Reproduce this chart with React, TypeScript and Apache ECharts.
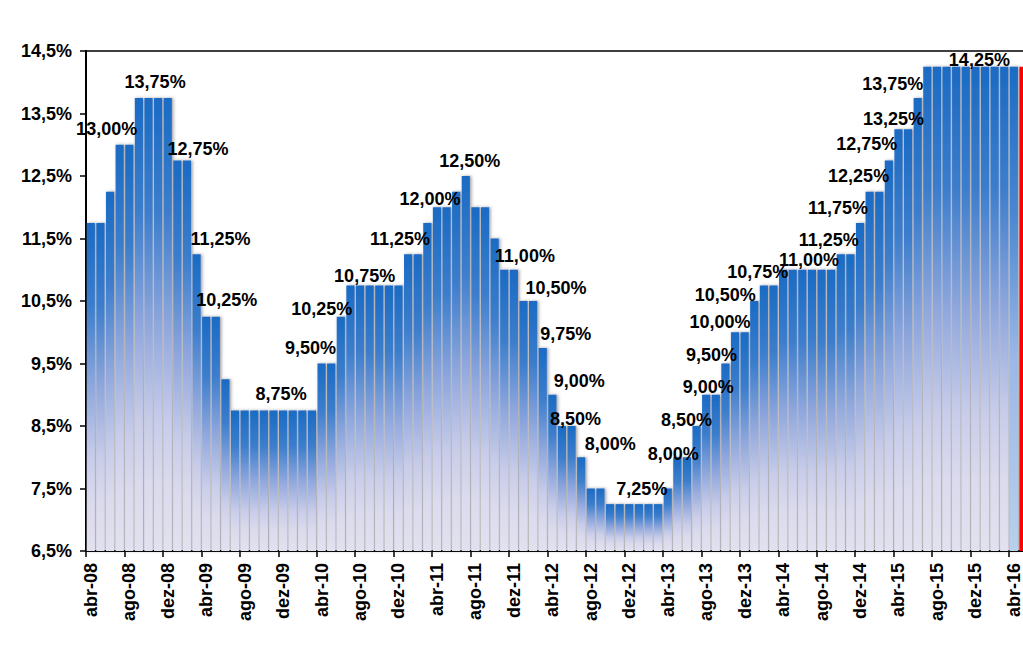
import React, { useEffect, useRef } from 'react';
import * as echarts from 'echarts';

// Monthly categories: abr-08 .. mai-16
const MONTH_NAMES = ['jan', 'fev', 'mar', 'abr', 'mai', 'jun', 'jul', 'ago', 'set', 'out', 'nov', 'dez'];
const START_YEAR = 2008;
const START_MONTH = 3; // abr
const MONTH_COUNT = 98;
const CATEGORIES: string[] = Array.from({ length: MONTH_COUNT }, (_, i) => {
  const m = (START_MONTH + i) % 12;
  const y = START_YEAR + Math.floor((START_MONTH + i) / 12);
  return `${MONTH_NAMES[m]}-${String(y % 100).padStart(2, '0')}`;
});

// Selic target rate (% a.a.), one value per month
const SELIC_2008 = [11.75, 11.75, 12.25, 13.0, 13.0, 13.75, 13.75, 13.75, 13.75];
const SELIC_2009 = [12.75, 12.75, 11.25, 10.25, 10.25, 9.25, 8.75, 8.75, 8.75, 8.75, 8.75, 8.75];
const SELIC_2010 = [8.75, 8.75, 8.75, 9.5, 9.5, 10.25, 10.75, 10.75, 10.75, 10.75, 10.75, 10.75];
const SELIC_2011 = [11.25, 11.25, 11.75, 12.0, 12.0, 12.25, 12.5, 12.0, 12.0, 11.5, 11.0, 11.0];
const SELIC_2012 = [10.5, 10.5, 9.75, 9.0, 8.5, 8.5, 8.0, 7.5, 7.5, 7.25, 7.25, 7.25];
const SELIC_2013 = [7.25, 7.25, 7.25, 7.5, 8.0, 8.0, 8.5, 9.0, 9.0, 9.5, 10.0, 10.0];
const SELIC_2014 = [10.5, 10.75, 10.75, 11.0, 11.0, 11.0, 11.0, 11.0, 11.0, 11.25, 11.25, 11.75];
const SELIC_2015 = [12.25, 12.25, 12.75, 13.25, 13.25, 13.75, 14.25, 14.25, 14.25, 14.25, 14.25, 14.25];
const SELIC_2016 = [14.25, 14.25, 14.25, 14.25, 14.25];
const SELIC = [
  ...SELIC_2008, ...SELIC_2009, ...SELIC_2010, ...SELIC_2011, ...SELIC_2012,
  ...SELIC_2013, ...SELIC_2014, ...SELIC_2015, ...SELIC_2016,
];

// Y axis ticks
const Y_MIN = 6.5;
const Y_MAX = 14.5;
const Y_STEP = 1;

// Which bars carry a value label
const LABELLED = [3, 7, 10, 11, 13, 20, 24, 26, 29, 33, 36, 39, 44, 46, 47, 48, 50, 51, 57, 61, 63, 64, 66, 67, 69, 70, 75, 78, 80, 81, 83, 84, 86, 92];
// Label nudges (style)
const LABEL_NUDGE: number[][] = [
  [-13, -2], [-3, -2], [11, 3], [24, -1], [11, -3], [-2, -2], [-11, -2], [-19, 6], [-5, 5], [-8, -1],
  [-7, 6], [4, -1], [11, 0], [23, 1], [23, 0], [27, 0], [4, 7], [29, 1], [3, -1], [-4, 11],
  [-10, 8], [2, 6], [-14, 5], [-15, 4], [-29, 8], [-6, 1], [-3, 4], [-12, 0], [-22, -1], [-11, -2],
  [-22, -2], [-5, 4], [-25, 0], [4, 7],
];
const LAST_BLUE_INDEX = 96;
const RED_INDEX = 97;

const FONT = 'Arial, "Liberation Sans", sans-serif';
const CHART_W = 1050;
const CHART_H = 654;

export default function App() {
  const ref = useRef<HTMLDivElement>(null);

  useEffect(() => {
    if (!ref.current) return;
    const chart = echarts.init(ref.current, null, { renderer: 'svg' });

    const mainGradient = () =>
      new echarts.graphic.LinearGradient(0, 0, 0, 1, [
        { offset: 0, color: '#1a6bc4' },
        { offset: 0.25, color: '#3b7dcc' },
        { offset: 0.5, color: '#8fa7dd' },
        { offset: 0.72, color: '#c9cdea' },
        { offset: 0.86, color: '#dcdbee' },
        { offset: 1, color: '#e2e1ef' },
      ]);
    const lastGradient = () =>
      new echarts.graphic.LinearGradient(0, 0, 0, 1, [
        { offset: 0, color: '#1a6bc4' },
        { offset: 0.3, color: '#4a86d0' },
        { offset: 0.6, color: '#9ab8e6' },
        { offset: 1, color: '#b8d0ec' },
      ]);

    const nudges = new Map<number, number[]>();
    LABELLED.forEach((idx, k) => nudges.set(idx, LABEL_NUDGE[k]));

    const data = SELIC.map((v, i) => {
      const item: any = { value: v };
      if (i === RED_INDEX) {
        item.itemStyle = { color: '#ff0000', shadowBlur: 0, shadowOffsetX: 0, shadowColor: 'transparent' };
      } else if (i === LAST_BLUE_INDEX) {
        item.itemStyle = { color: lastGradient() };
      }
      if (nudges.has(i)) {
        item.label = { show: true, offset: nudges.get(i) };
      }
      return item;
    });

    // plot spans x = 86 .. 86 + 98 * 9.615
    const plotRight = 86 + MONTH_COUNT * 9.615;

    chart.setOption({
      animation: false,
      backgroundColor: '#ffffff',
      grid: {
        left: 86,
        top: 51,
        bottom: 103,
        right: CHART_W - plotRight,
        containLabel: false,
        show: true,
        borderColor: '#000',
        borderWidth: 1.5,
        backgroundColor: 'transparent',
      },
      xAxis: {
        type: 'category',
        data: CATEGORIES,
        boundaryGap: true,
        axisLine: { show: true, lineStyle: { color: '#000', width: 2 } },
        axisTick: { show: true, interval: 3, length: 6, lineStyle: { color: '#000', width: 1.5 } },
        axisLabel: {
          interval: 3,
          rotate: 90,
          margin: 12,
          color: '#000',
          fontFamily: FONT,
          fontWeight: 'bold',
          fontSize: 18,
        },
        splitLine: { show: false },
      },
      yAxis: {
        type: 'value',
        min: Y_MIN,
        max: Y_MAX,
        interval: Y_STEP,
        axisLine: { show: true, lineStyle: { color: '#000', width: 2 } },
        axisTick: { show: true, length: 6, lineStyle: { color: '#000', width: 1.5 } },
        axisLabel: {
          margin: 14,
          color: '#000',
          fontFamily: FONT,
          fontWeight: 'bold',
          fontSize: 18,
          formatter: (v: number) => v.toFixed(1).replace('.', ',') + '%',
        },
        splitLine: { show: false },
      },
      series: [
        {
          type: 'bar',
          data,
          barCategoryGap: '15%',
          itemStyle: {
            color: mainGradient(),
            shadowColor: 'rgba(60,60,70,0.5)',
            shadowBlur: 3,
            shadowOffsetX: 1.5,
          },
          label: {
            show: false,
            position: 'top',
            distance: 5,
            color: '#000',
            fontFamily: FONT,
            fontWeight: 'bold',
            fontSize: 18,
            formatter: (p: any) => Number(p.value).toFixed(2).replace('.', ',') + '%',
          },
        },
      ],
    });

    return () => chart.dispose();
  }, []);

  return (
    <div
      style={{ position: 'fixed', left: 0, top: 0, width: 1023, height: 654, overflow: 'hidden', background: '#fff' }}
    >
      <div ref={ref} style={{ width: CHART_W, height: CHART_H }} />
    </div>
  );
}
